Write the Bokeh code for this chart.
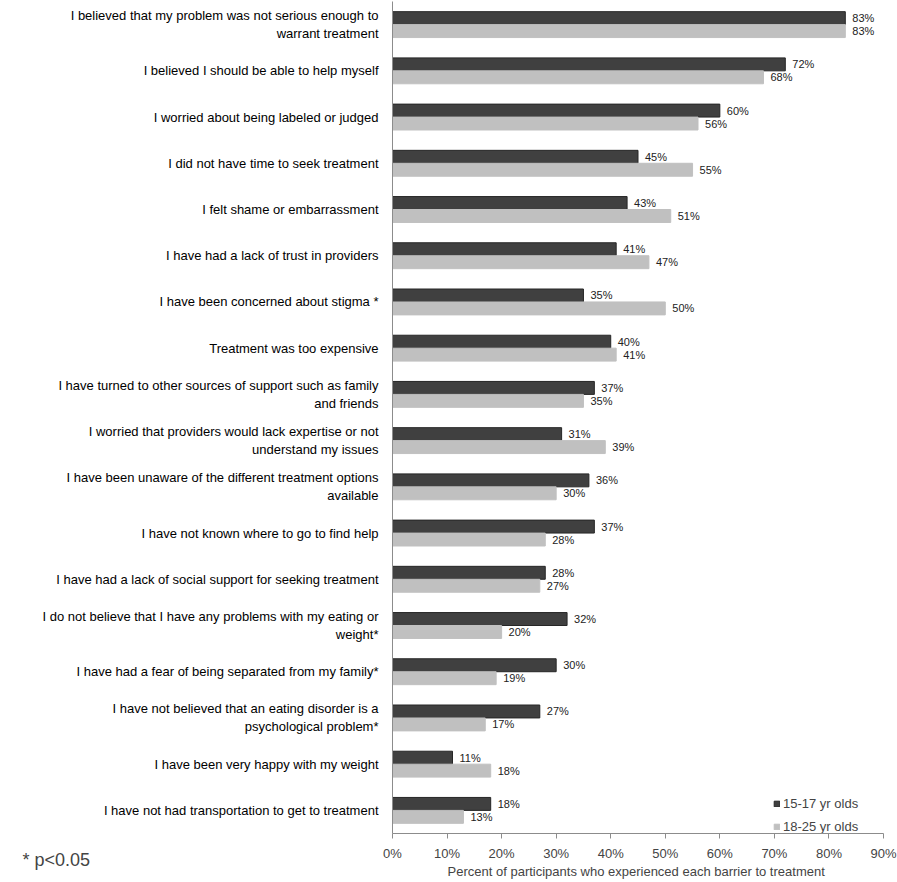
from bokeh.plotting import figure
from bokeh.models import FactorRange, ColumnDataSource, Legend, LegendItem, FixedTicker, Title
from bokeh.transform import dodge
from bokeh.embed import file_html
from bokeh.resources import INLINE
from bokeh.core.properties import value

categories = [
    "I believed that my problem was not serious enough to\nwarrant treatment",
    "I believed I should be able to help myself",
    "I worried about being labeled or judged",
    "I did not have time to seek treatment",
    "I felt shame or embarrassment",
    "I have had a lack of trust in providers",
    "I have been concerned about stigma *",
    "Treatment was too expensive",
    "I have turned to other sources of support such as family\nand friends",
    "I worried that providers would lack expertise or not\nunderstand my issues",
    "I have been unaware of the different treatment options\navailable",
    "I have not known where to go to find help",
    "I have had a lack of social support for seeking treatment",
    "I do not believe that I have any problems with my eating or\nweight*",
    "I have had a fear of being separated from my family*",
    "I have not believed that an eating disorder is a\npsychological problem*",
    "I have been very happy with my weight",
    "I have not had transportation to get to treatment",
]
age_15_17 = [83, 72, 60, 45, 43, 41, 35, 40, 37, 31, 36, 37, 28, 32, 30, 27, 11, 18]
age_18_25 = [83, 68, 56, 55, 51, 47, 50, 41, 35, 39, 30, 28, 27, 20, 19, 17, 18, 13]
series_names = ["15-17 yr olds", "18-25 yr olds"]
x_ticks = [0, 10, 20, 30, 40, 50, 60, 70, 80, 90]
note_text = "* p<0.05"

src = ColumnDataSource(dict(
    cat=categories,
    a=age_15_17,
    b=age_18_25,
    a_lbl=[f"{v}%" for v in age_15_17],
    b_lbl=[f"{v}%" for v in age_18_25],
))

FONT = "Liberation Sans"

p = figure(
    frame_width=491, frame_height=832,
    y_range=FactorRange(factors=list(reversed(categories)), range_padding=0),
    x_range=(0, 90),
    output_backend="svg", toolbar_location=None,
    min_border_left=392, min_border_right=14, min_border_top=1, min_border_bottom=0,
)
p.outline_line_color = None
p.xgrid.grid_line_color = None
p.ygrid.grid_line_color = None

dark = "#404040"
light = "#c0c0c0"

r1 = p.hbar(y=dodge("cat", 0.14, range=p.y_range), right="a", left=0, height=0.28,
            source=src, fill_color=dark, line_color="#262626", line_width=1)
r2 = p.hbar(y=dodge("cat", -0.14, range=p.y_range), right="b", left=0, height=0.28,
            source=src, fill_color=light, line_color=light, line_width=1)

p.text(x="a", y=dodge("cat", 0.14, range=p.y_range), text="a_lbl", source=src,
       x_offset=7, text_baseline="middle", text_font_size="11px",
       text_font=value(FONT), text_color="#222222")
p.text(x="b", y=dodge("cat", -0.14, range=p.y_range), text="b_lbl", source=src,
       x_offset=7, text_baseline="middle", text_font_size="11px",
       text_font=value(FONT), text_color="#222222")

xa = p.xaxis[0]
xa.ticker = FixedTicker(ticks=x_ticks)
xa.major_label_overrides = {t: f"{t}%" for t in x_ticks}
xa.axis_label = "Percent of participants  who experienced each barrier to treatment"
xa.axis_label_text_font = FONT
xa.axis_label_text_font_style = "normal"
xa.axis_label_text_font_size = "13px"
xa.axis_label_standoff = 0
xa.major_label_text_font = FONT
xa.major_label_text_font_size = "13px"
xa.major_label_standoff = 7
xa.axis_line_color = "#8c8c8c"
xa.major_tick_line_color = "#8c8c8c"
xa.major_tick_out = 5
xa.major_tick_in = 0
xa.minor_tick_line_color = None

ya = p.yaxis[0]
ya.major_label_text_font = FONT
ya.major_label_text_font_size = "13px"
ya.major_label_text_color = "#000000"
ya.axis_line_color = "#8c8c8c"
ya.major_tick_line_color = None
ya.major_label_standoff = 8

legend = Legend(items=[LegendItem(label=series_names[0], renderers=[r1]),
                       LegendItem(label=series_names[1], renderers=[r2])],
                location=(381, -2))
legend.background_fill_alpha = 0
legend.border_line_color = None
legend.label_text_font = FONT
legend.label_text_font_size = "13px"
legend.glyph_width = 7
legend.glyph_height = 7
legend.label_height = 18
legend.spacing = 5
legend.label_standoff = 3
legend.margin = 0
legend.padding = 0
p.add_layout(legend)

# significance note, left of the chart beside the x-axis labels
note = Title(text=note_text + "\n \n ", align="left", offset=-370, standoff=-63,
             vertical_align="top",
             text_font=FONT, text_font_size="18px", text_font_style="normal")
p.add_layout(note, "below")

open("out.html", "w").write(file_html(p, INLINE))
